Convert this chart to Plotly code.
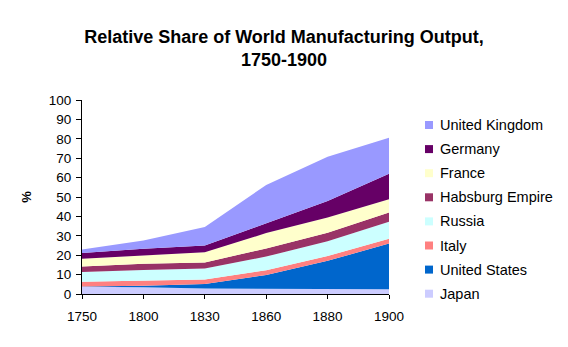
import plotly.graph_objects as go

years = ["1750", "1800", "1830", "1860", "1880", "1900"]

# stacking order bottom -> top
japan = [3.8, 3.5, 2.8, 2.6, 2.4, 2.4]
united_states = [0.1, 0.8, 2.4, 7.2, 14.7, 23.6]
italy = [2.4, 2.5, 2.3, 2.5, 2.5, 2.5]
russia = [5.0, 5.6, 5.6, 7.0, 7.6, 8.8]
habsburg = [2.9, 3.2, 3.2, 4.2, 4.4, 4.7]
france = [4.0, 4.2, 5.2, 7.9, 7.8, 6.8]
germany = [2.9, 3.5, 3.5, 4.9, 8.5, 13.2]
united_kingdom = [1.9, 4.3, 9.5, 19.9, 22.9, 18.5]

names = ["Japan", "United States", "Italy", "Russia", "Habsburg Empire",
         "France", "Germany", "United Kingdom"]
series = [japan, united_states, italy, russia, habsburg, france, germany, united_kingdom]
colors = ["#CCCCFF", "#0066CC", "#FF8080", "#CCFFFF", "#993366",
          "#FFFFCC", "#660066", "#9999FF"]

y_ticks = list(range(0, 101, 10))

FONT = "Liberation Sans, Arial, sans-serif"
W, H = 568, 347
L, R, T, B = 82, 389, 100, 294  # plot area in pixels

fig = go.Figure()
for name, vals, col in zip(names, series, colors):
    fig.add_trace(go.Scatter(
        x=years, y=vals, name=name, mode="lines",
        stackgroup="one", line=dict(width=0, color=col),
        fillcolor=col, showlegend=False, hoverinfo="x+y+name",
    ))

# manual legend (top entry = top of stack)
leg_y0 = 125
leg_dy = 24.1
for i, (name, col) in enumerate(zip(names[::-1], colors[::-1])):
    cy = leg_y0 + i * leg_dy
    x0 = (425 - L) / (R - L)
    x1 = (433 - L) / (R - L)
    y0 = (B - (cy + 4)) / (B - T)
    y1 = (B - (cy - 4)) / (B - T)
    fig.add_shape(type="rect", xref="paper", yref="paper",
                  x0=x0, x1=x1, y0=y0, y1=y1,
                  fillcolor=col, line=dict(width=0))
    fig.add_annotation(xref="paper", yref="paper",
                       x=(438 - L) / (R - L), y=(B - cy) / (B - T),
                       xanchor="left", yanchor="middle", showarrow=False,
                       text=name, font=dict(family=FONT, size=14.5, color="black"))

fig.update_layout(
    width=W, height=H,
    margin=dict(l=L, r=W - R, t=T, b=H - B, pad=0),
    paper_bgcolor="white", plot_bgcolor="white",
    font=dict(family=FONT, size=13, color="black"),
    title=dict(
        text="<b>Relative Share of World Manufacturing Output,<br>1750-1900</b>",
        x=0.5, xref="container", xanchor="center",
        y=1 - 42.5 / H, yref="container", yanchor="middle",
        font=dict(family=FONT, size=18, color="black"),
    ),
    showlegend=False,
    xaxis=dict(
        type="category", categoryorder="array", categoryarray=years,
        range=[0, 5], showgrid=False, zeroline=False,
        showline=True, linecolor="black", linewidth=1,
        ticks="outside", ticklen=4, tickcolor="black",
        ticklabelstandoff=6,
        tickfont=dict(family=FONT, size=13.5, color="black"),
    ),
    yaxis=dict(
        range=[0, 100], tickvals=y_ticks, ticktext=[str(v) for v in y_ticks],
        showgrid=False, zeroline=False,
        showline=True, linecolor="black", linewidth=1,
        ticks="outside", ticklen=5, tickcolor="black",
        ticklabelstandoff=2,
        tickfont=dict(family=FONT, size=13.5, color="black"),
        title=dict(text="<b>%</b>", standoff=14,
                   font=dict(family=FONT, size=13, color="black")),
    ),
)

fig.write_html("out.html")
